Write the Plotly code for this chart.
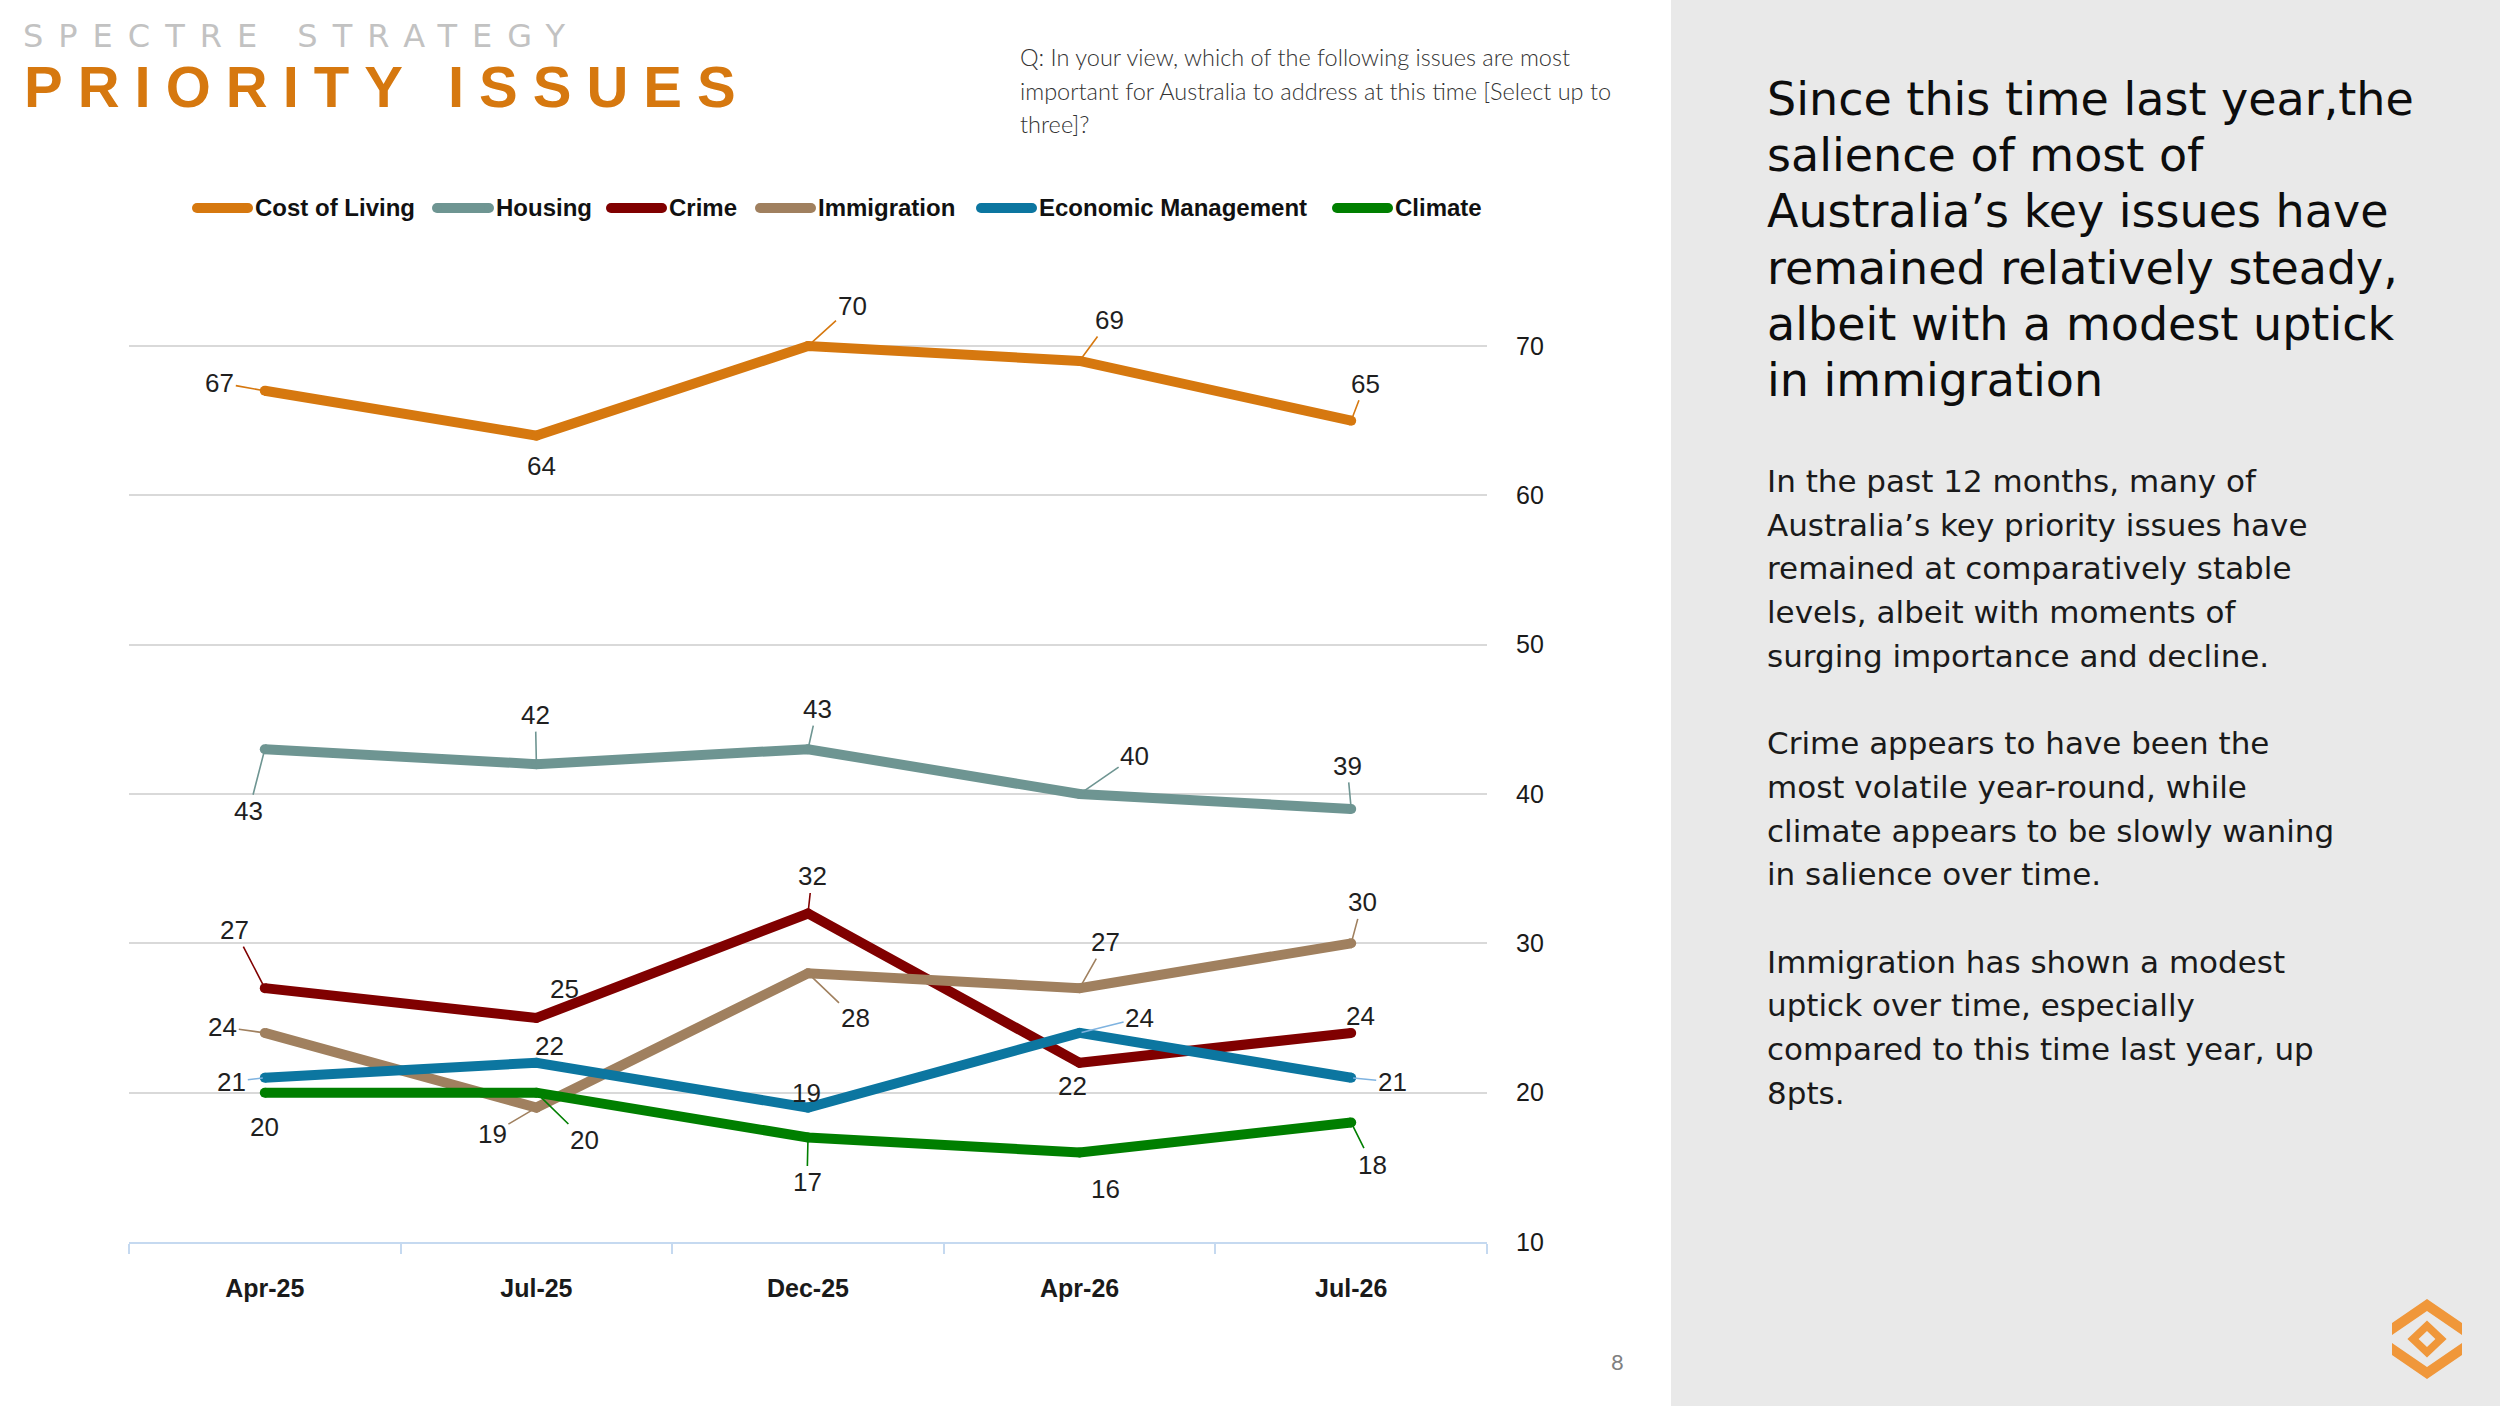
import plotly.graph_objects as go

W, H = 2500, 1406

# data
periods = ["Apr-25", "Jul-25", "Dec-25", "Apr-26", "Jul-26"]
cost_of_living = [67, 64, 70, 69, 65]
housing = [43, 42, 43, 40, 39]
crime = [27, 25, 32, 22, 24]
immigration = [24, 19, 28, 27, 30]
economic_management = [21, 22, 19, 24, 21]
climate = [20, 20, 17, 16, 18]
y_ticks = [10, 20, 30, 40, 50, 60, 70]

series_names = ["Cost of Living", "Housing", "Crime", "Immigration",
                "Economic Management", "Climate"]
series_values = [cost_of_living, housing, crime, immigration,
                 economic_management, climate]
series_colors = ["#D6780F", "#6E9592", "#800000", "#A0805F", "#0C76A0", "#007F00"]
leader_colors = ["#D6780F", "#6E9592", "#800000", "#A0805F", "#7FB3E0", "#007F00"]

# label placement per point: (dx, dy) in px from the point, leader line or not
label_offsets = [
    [(-45, -8, True), (5, 30, False), (44, -40, True), (30, -41, True), (14, -37, True)],
    [(-16, 62, True), (-1, -49, True), (9, -40, True), (55, -38, True), (-4, -43, True)],
    [(-30, -58, True), (28, -29, False), (4, -37, True), (-7, 23, False), (9, -17, False)],
    [(-42, -6, True), (-44, 26, True), (47, 45, True), (26, -46, True), (11, -41, True)],
    [(-33, 4, True), (13, -17, False), (-2, -15, False), (60, -15, True), (41, 4, True)],
    [(0, 34, False), (48, 47, True), (-1, 45, True), (26, 37, False), (21, 42, True)],
]

question = [
    "Q: In your view, which of the following issues are most",
    "important for Australia to address at this time [Select up to",
    "three]?",
]
headline = [
    "Since this time last year,the",
    "salience of most of",
    "Australia’s key issues have",
    "remained relatively steady,",
    "albeit with a modest uptick",
    "in immigration",
]
body = [
    "In the past 12 months, many of",
    "Australia’s key priority issues have",
    "remained at comparatively stable",
    "levels, albeit with moments of",
    "surging importance and decline.",
    "",
    "Crime appears to have been the",
    "most volatile year-round, while",
    "climate appears to be slowly waning",
    "in salience over time.",
    "",
    "Immigration has shown a modest",
    "uptick over time, especially",
    "compared to this time last year, up",
    "8pts.",
]


def px(x):
    return x / W


def py(y):
    return 1 - y / H


# plot box in page pixels
X0, X1 = 129, 1487
Y10, Y70 = 1242, 346
unit = (Y10 - Y70) / 60.0

CHART_FONT = "Liberation Sans"
PANEL_FONT = "DejaVu Sans"

fig = go.Figure()
for name, vals, color in zip(series_names, series_values, series_colors):
    fig.add_trace(go.Scatter(
        x=periods, y=vals, name=name, mode="lines+markers",
        line=dict(color=color, width=10),
        marker=dict(color=color, size=10),
        showlegend=False, hoverinfo="x+y+name",
    ))

annotations = []
shapes = []

# data labels
for vals, lc, offs in zip(series_values, leader_colors, label_offsets):
    for cat, v, (dx, dy, lead) in zip(periods, vals, offs):
        a = dict(x=cat, y=v, xref="x", yref="y", text=str(v),
                 font=dict(family=CHART_FONT, size=26, color="#1F1F1F"))
        if lead:
            a.update(showarrow=True, ax=dx, ay=dy, arrowhead=0, arrowwidth=1.6,
                     arrowcolor=lc, standoff=2)
        else:
            a.update(showarrow=False, xshift=dx, yshift=-dy)
        annotations.append(a)

# legend drawn by hand to match the slide
legend_x = [(193, 252), (433, 493), (607, 666), (756, 815), (977, 1036), (1333, 1392)]
legend_y = 208
for name, color, (lx0, lx1) in zip(series_names, series_colors, legend_x):
    shapes.append(dict(type="line", xref="paper", yref="paper",
                       x0=px(lx0 + 4), x1=px(lx1 - 4), y0=py(legend_y), y1=py(legend_y),
                       line=dict(color=color, width=10)))
    for cx in (lx0 + 4, lx1 - 4):
        shapes.append(dict(type="circle", xref="paper", yref="paper",
                           x0=px(cx - 5), x1=px(cx + 5),
                           y0=py(legend_y + 5), y1=py(legend_y - 5),
                           fillcolor=color, line=dict(width=0)))
    annotations.append(dict(x=px(lx1 + 1), y=py(legend_y), xref="paper", yref="paper",
                            xanchor="left", yanchor="middle", showarrow=False,
                            text=name, font=dict(family=CHART_FONT, size=24,
                                                 color="#111111", weight="bold")))

# titles
annotations.append(dict(
    x=px(21), y=py(36), xref="paper", yref="paper", xanchor="left", yanchor="middle",
    showarrow=False,
    text='<span style="letter-spacing:15px">SPECTRE STRATEGY</span>',
    font=dict(family=PANEL_FONT, size=32, color="#C2C2C2")))
annotations.append(dict(
    x=px(22), y=py(87), xref="paper", yref="paper", xanchor="left", yanchor="middle",
    showarrow=False,
    text='<span style="letter-spacing:15px">PRIORITY ISSUES</span>',
    font=dict(family=CHART_FONT, size=58, color="#D6780F", weight="bold")))

for i, line in enumerate(question):
    annotations.append(dict(
        x=px(1018), y=py(57 + i * 33.5), xref="paper", yref="paper",
        xanchor="left", yanchor="middle", showarrow=False, text=line,
        font=dict(family="Lato", size=23.5, color="#333333", weight=300)))

# right panel
shapes.append(dict(type="rect", xref="paper", yref="paper", x0=px(1671), x1=1,
                   y0=0, y1=1, fillcolor="#E9E9E9", line=dict(width=0), layer="below"))

for i, line in enumerate(headline):
    annotations.append(dict(
        x=px(1765), y=py(99 + i * 56.2), xref="paper", yref="paper",
        xanchor="left", yanchor="middle", showarrow=False, text=line,
        font=dict(family=PANEL_FONT, size=46, color="#0D0D0D")))

for i, line in enumerate(body):
    if not line:
        continue
    annotations.append(dict(
        x=px(1765), y=py(481 + i * 43.7), xref="paper", yref="paper",
        xanchor="left", yanchor="middle", showarrow=False, text=line,
        font=dict(family=PANEL_FONT, size=31, color="#1A1A1A")))

# page number
annotations.append(dict(x=px(1617), y=py(1377), xref="paper", yref="paper",
                        showarrow=False, text="8",
                        font=dict(family="Lato", size=22, color="#808080")))

# logo
LX, LY, LW, LH = 2392, 1299, 70, 80


def logo_path(*rings):
    parts = []
    for ring in rings:
        pts = ["%s%.5f,%.5f" % ("M" if k == 0 else "L", px(LX + u * LW), py(LY + v * LH))
               for k, (u, v) in enumerate(ring)]
        parts.append(" ".join(pts) + " Z")
    return " ".join(parts)


logo_color = "#F0973A"
for rings in [
    [[(0, .30), (.5, 0), (1, .30), (1, .45), (.5, .15), (0, .45)]],
    [[(0, .55), (.5, .85), (1, .55), (1, .70), (.5, 1), (0, .70)]],
    [[(.5, .27), (.78, .5), (.5, .73), (.22, .5)],
     [(.5, .40), (.38, .5), (.5, .60), (.62, .5)]],
]:
    shapes.append(dict(type="path", xref="paper", yref="paper", path=logo_path(*rings),
                       fillcolor=logo_color, line=dict(width=0)))

fig.update_layout(
    width=W, height=H,
    margin=dict(l=0, r=0, t=0, b=0),
    paper_bgcolor="white", plot_bgcolor="rgba(0,0,0,0)",
    showlegend=False,
    xaxis=dict(
        domain=[px(X0), px(X1)], type="category", range=[-0.5, 4.5],
        showline=True, linecolor="#C5D9F0", linewidth=2,
        ticks="outside", tickson="boundaries", ticklen=10, tickwidth=2,
        tickcolor="#C5D9F0", showgrid=False, automargin=False,
        tickfont=dict(family=CHART_FONT, size=25, color="#1A1A1A", weight="bold"),
        ticklabelstandoff=23, fixedrange=True,
    ),
    yaxis=dict(
        domain=[py(Y10), py(Y70 - unit)], range=[10, 71], side="right",
        tickvals=y_ticks, showgrid=True, gridcolor="#D9D9D9", gridwidth=2,
        zeroline=False, showline=False, ticks="", automargin=False,
        tickfont=dict(family=CHART_FONT, size=25, color="#1A1A1A"),
        ticklabelstandoff=28, fixedrange=True,
    ),
    annotations=annotations,
    shapes=shapes,
)

fig.write_html("out.html", config={"displayModeBar": False},
               post_script="document.body.style.margin='0';"
                           "document.body.style.overflow='hidden';")
